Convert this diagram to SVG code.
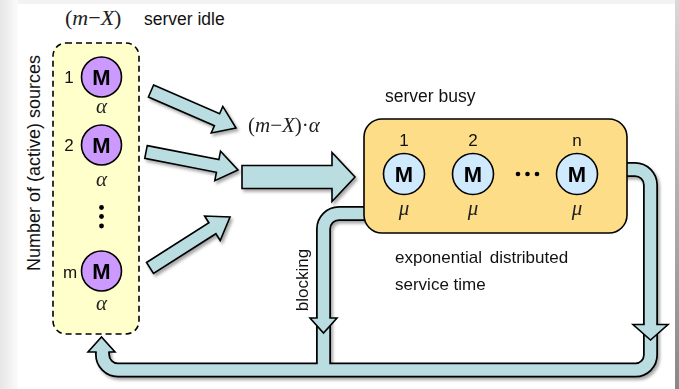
<svg xmlns="http://www.w3.org/2000/svg" width="679" height="389" viewBox="0 0 679 389">
<style>
.sans{font-family:"Liberation Sans",Arial,sans-serif;fill:#111}
.math{font-family:"Liberation Serif","Times New Roman",serif;font-style:italic;fill:#222}
.up{font-family:"Liberation Serif","Times New Roman",serif;font-style:normal}
.mlbl{font-family:"Liberation Sans",Arial,sans-serif;font-weight:bold;font-size:22px;fill:#000}
.src{fill:#cc99ff;stroke:#000;stroke-width:1.6}
.srv{fill:#cfe9fd;stroke:#000;stroke-width:1.6}
.arrow{fill:#b9dde0;stroke:#000;stroke-width:1.6;stroke-linejoin:miter}
.pipeO{fill:none;stroke:#000;stroke-width:15}
.pipeI{fill:none;stroke:#b9dde0;stroke-width:11.5}
</style>
<defs>
<linearGradient id="lg" x1="0" x2="1" y1="0" y2="0">
<stop offset="0" stop-color="#e6e6e6"/><stop offset="1" stop-color="#fbfbfb"/>
</linearGradient>
<linearGradient id="rg" x1="0" x2="0" y1="0" y2="1">
<stop offset="0" stop-color="#d8d8d8"/><stop offset="1" stop-color="#888"/>
</linearGradient>
<filter id="sh" x="-20%" y="-20%" width="140%" height="140%">
<feDropShadow dx="2" dy="2.5" stdDeviation="1.5" flood-color="#000" flood-opacity="0.35"/>
</filter>
</defs>
<rect x="0" y="0" width="679" height="389" fill="#f3f3f3"/>
<rect x="0" y="0" width="18" height="389" fill="url(#lg)"/>
<rect x="18" y="4" width="657" height="385" fill="#fff"/>
<rect x="675" y="0" width="4" height="389" fill="url(#rg)"/>

<text class="sans" font-size="18" transform="translate(40,163) rotate(-90)" text-anchor="middle">Number of (active) sources</text>
<text class="math" font-size="22" x="65" y="25"><tspan class="up">(</tspan>m<tspan class="up">−</tspan>X<tspan class="up">)</tspan></text>
<text class="sans" font-size="17.5" x="144" y="25">server idle</text>

<g id="connectors">
<g filter="url(#sh)">
<path class="pipeO" d="M620 169.5 H635 A15.5 15.5 0 0 1 650.5 185 V355 A15 15 0 0 1 635.5 370 H118 A15.5 15.5 0 0 1 102.5 354.5 V348"/>
<path class="pipeO" d="M370 213.5 H339 A15.5 15.5 0 0 0 323.5 229 V370"/>
<path class="pipeI" d="M620 169.5 H635 A15.5 15.5 0 0 1 650.5 185 V355 A15 15 0 0 1 635.5 370 H118 A15.5 15.5 0 0 1 102.5 354.5 V346"/>
<path class="pipeI" d="M370 213.5 H339 A15.5 15.5 0 0 0 323.5 229 V370"/>
</g>
<path class="arrow" d="M317.7 318 H310 L323.5 333 L337 318 H329.3"/>
<path class="arrow" d="M644.7 324.5 H633 L650.5 340 L668 324.5 H656.3"/>
<path class="arrow" d="M96.7 352 H88 L101.5 337 L115 352 H108.3"/>
<g filter="url(#sh)">
<polygon class="arrow" transform="translate(151,91) rotate(23.5)" points="0,-6.5 72,-6.5 72,-14.5 92.7,0 72,14.5 72,6.5 0,6.5"/>
<polygon class="arrow" transform="translate(146,152) rotate(11)" points="0,-6.5 73,-6.5 73,-15 93.7,0 73,15 73,6.5 0,6.5"/>
<polygon class="arrow" transform="translate(150,268) rotate(-32.5)" points="0,-6.5 74,-6.5 74,-14.5 94.9,0 74,14.5 74,6.5 0,6.5"/>
<polygon class="arrow" points="242,165.5 332,165.5 332,152.5 355,177 332,201.5 332,188.5 242,188.5"/>
</g>
</g>

<g id="sources">
<rect x="53" y="43" width="86" height="291" rx="13" fill="#ffffcc" stroke="#000" stroke-width="1.6" stroke-dasharray="6,4"/>
</g>
<g id="source1">
<text class="sans" font-size="17" x="69" y="83" text-anchor="middle">1</text>
<circle class="src" cx="101.5" cy="77" r="20"/>
<text class="mlbl" x="101.5" y="85" text-anchor="middle">M</text>
<text class="math" font-size="21" x="101.5" y="113" text-anchor="middle">α</text>
</g>
<g id="source2">
<text class="sans" font-size="17" x="69" y="151" text-anchor="middle">2</text>
<circle class="src" cx="101.5" cy="145" r="20"/>
<text class="mlbl" x="101.5" y="153" text-anchor="middle">M</text>
<text class="math" font-size="21" x="101.5" y="186" text-anchor="middle">α</text>
</g>
<g id="vdots">
<circle cx="101.5" cy="207.5" r="2.4" fill="#000"/>
<circle cx="101.5" cy="216.5" r="2.4" fill="#000"/>
<circle cx="101.5" cy="226" r="2.4" fill="#000"/>
</g>
<g id="sourcem">
<text class="sans" font-size="17" x="70" y="278" text-anchor="middle">m</text>
<circle class="src" cx="101.5" cy="271" r="20"/>
<text class="mlbl" x="101.5" y="279" text-anchor="middle">M</text>
<text class="math" font-size="21" x="101.5" y="310" text-anchor="middle">α</text>
</g>

<text class="math" font-size="21" x="248" y="132"><tspan class="up">(</tspan>m<tspan class="up">−</tspan>X<tspan class="up">)·</tspan>α</text>

<g id="server">
<text class="sans" font-size="17.5" x="385" y="102">server busy</text>
<rect x="364" y="119" width="263" height="114" rx="18" fill="#fedd88" stroke="#000" stroke-width="1.6"/>
</g>
<g id="server1">
<text class="sans" font-size="17" x="404" y="146" text-anchor="middle">1</text>
<circle class="srv" cx="404" cy="174" r="20.5"/>
<text class="mlbl" x="404" y="182" text-anchor="middle">M</text>
<text class="math" font-size="21" x="404" y="215" text-anchor="middle">μ</text>
</g>
<g id="server2">
<text class="sans" font-size="17" x="473" y="146" text-anchor="middle">2</text>
<circle class="srv" cx="473" cy="174" r="20.5"/>
<text class="mlbl" x="473" y="182" text-anchor="middle">M</text>
<text class="math" font-size="21" x="473" y="215" text-anchor="middle">μ</text>
</g>
<g id="hdots">
<circle cx="518" cy="174" r="2.3" fill="#000"/>
<circle cx="527.5" cy="174" r="2.3" fill="#000"/>
<circle cx="537" cy="174" r="2.3" fill="#000"/>
</g>
<g id="servern">
<text class="sans" font-size="17" x="577" y="146" text-anchor="middle">n</text>
<circle class="srv" cx="577" cy="174" r="20.5"/>
<text class="mlbl" x="577" y="182" text-anchor="middle">M</text>
<text class="math" font-size="21" x="577" y="215" text-anchor="middle">μ</text>
</g>

<text class="sans" font-size="17" x="395" y="263" word-spacing="3">exponential distributed</text>
<text class="sans" font-size="17" x="395" y="290">service time</text>
<text class="sans" font-size="17" transform="translate(308,280) rotate(-90)" text-anchor="middle">blocking</text>
</svg>
